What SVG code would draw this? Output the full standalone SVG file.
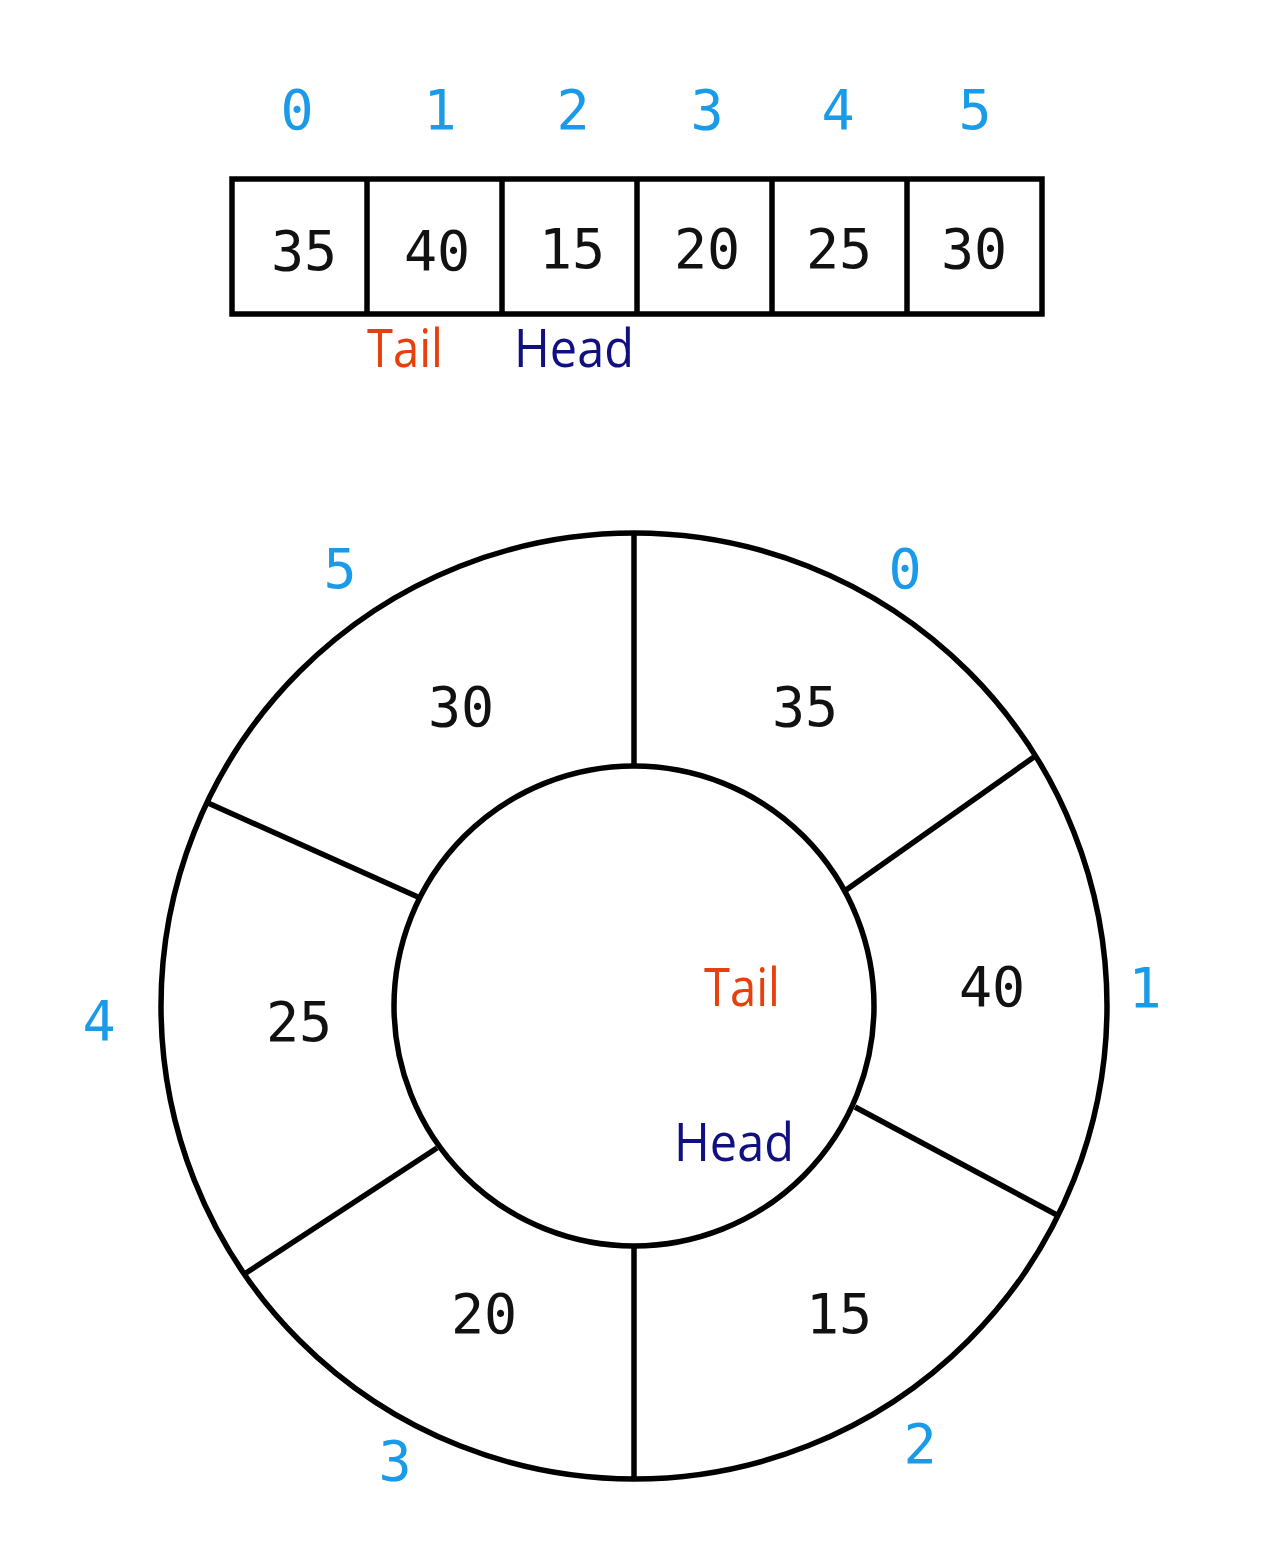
<svg xmlns="http://www.w3.org/2000/svg" width="1280" height="1562" viewBox="0 0 1280 1562">
<style>
.ln{stroke:#000;stroke-width:5.5;fill:none}
.num{font-family:"DejaVu Sans Mono",monospace;font-size:55px;fill:#111;text-anchor:middle}
.idx{font-family:"DejaVu Sans Mono",monospace;font-size:55px;fill:#1a9be8;text-anchor:middle}
.tail{font-family:"Open Sans","Noto Sans",sans-serif;font-size:53px;fill:#e8400c}
.head{font-family:"Open Sans","Noto Sans",sans-serif;font-size:53px;fill:#101080}
</style>
<rect width="1280" height="1562" fill="#fff"/>
<g id="array">
<rect class="ln" x="232" y="179" width="810" height="135"/>
<line class="ln" x1="367" y1="179" x2="367" y2="314"/>
<line class="ln" x1="502" y1="179" x2="502" y2="314"/>
<line class="ln" x1="637" y1="179" x2="637" y2="314"/>
<line class="ln" x1="772" y1="179" x2="772" y2="314"/>
<line class="ln" x1="907" y1="179" x2="907" y2="314"/>
<text class="idx" x="297" y="129">0</text>
<text class="idx" x="440" y="129">1</text>
<text class="idx" x="573" y="129">2</text>
<text class="idx" x="707" y="129">3</text>
<text class="idx" x="838" y="129">4</text>
<text class="idx" x="975" y="129">5</text>
<text class="num" x="304" y="270">35</text>
<text class="num" x="437" y="270">40</text>
<text class="num" x="572" y="268">15</text>
<text class="num" x="707" y="268">20</text>
<text class="num" x="839" y="268">25</text>
<text class="num" x="974" y="268">30</text>
<text class="tail" x="367" y="367" textLength="76" lengthAdjust="spacingAndGlyphs">Tail</text>
<text class="head" x="514" y="367" textLength="120" lengthAdjust="spacingAndGlyphs">Head</text>
</g>
<g id="ring">
<circle class="ln" cx="634" cy="1006" r="473"/>
<circle class="ln" cx="634" cy="1006" r="240"/>
<line class="ln" x1="634" y1="535" x2="634" y2="766"/>
<line class="ln" x1="846" y1="890" x2="1034" y2="757"/>
<line class="ln" x1="855" y1="1107" x2="1057" y2="1215"/>
<line class="ln" x1="634" y1="1246" x2="634" y2="1478"/>
<line class="ln" x1="437" y1="1148" x2="246" y2="1273"/>
<line class="ln" x1="418" y1="897" x2="208" y2="803"/>
<text class="num" x="461" y="726">30</text>
<text class="num" x="805" y="726">35</text>
<text class="num" x="992" y="1006">40</text>
<text class="num" x="299" y="1041">25</text>
<text class="num" x="484" y="1333">20</text>
<text class="num" x="839" y="1333">15</text>
<text class="idx" x="340" y="588">5</text>
<text class="idx" x="905" y="588">0</text>
<text class="idx" x="1145" y="1007">1</text>
<text class="idx" x="99" y="1040">4</text>
<text class="idx" x="395" y="1480">3</text>
<text class="idx" x="920" y="1463">2</text>
<text class="tail" x="704" y="1006" textLength="76" lengthAdjust="spacingAndGlyphs">Tail</text>
<text class="head" x="674" y="1161" textLength="120" lengthAdjust="spacingAndGlyphs">Head</text>
</g>
</svg>
